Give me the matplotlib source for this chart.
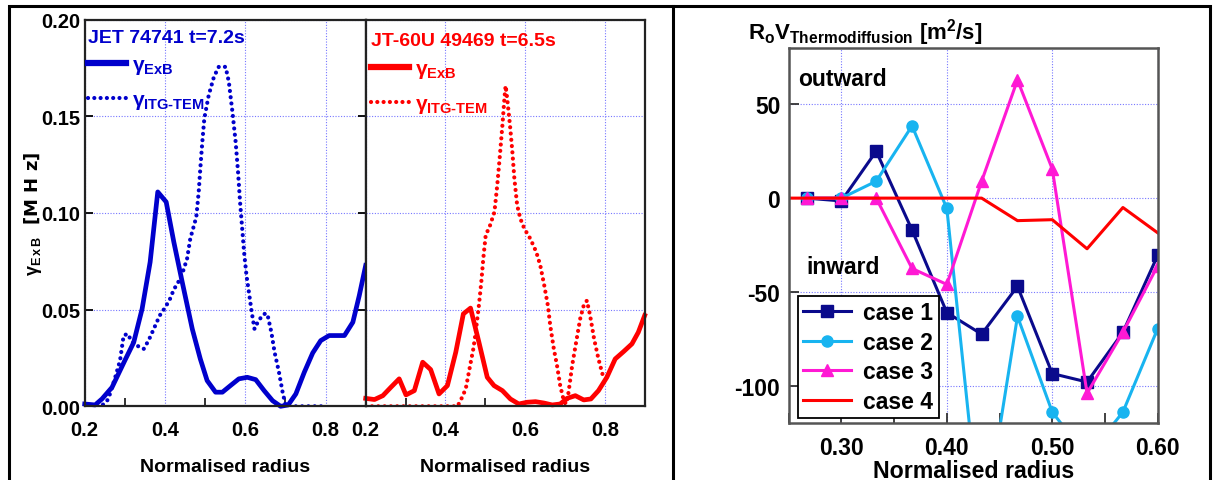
import matplotlib
matplotlib.use("Agg")
import matplotlib.pyplot as plt
from matplotlib.lines import Line2D
from matplotlib.patches import Rectangle
from matplotlib.ticker import MultipleLocator, FormatStrFormatter

# ---------------- data ----------------
# JET 74741, t=7.2s
jet_exb_x = [0.200, 0.226, 0.243, 0.268, 0.300, 0.322, 0.343, 0.363, 0.382, 0.403, 0.422,
             0.443, 0.468, 0.488, 0.505, 0.526, 0.543, 0.563, 0.584, 0.605, 0.626, 0.647,
             0.668, 0.688, 0.707, 0.726, 0.747, 0.768, 0.788, 0.809, 0.847, 0.868, 0.884, 0.900]
jet_exb_y = [0.0012, 0.0007, 0.0038, 0.0098, 0.0237, 0.0330, 0.0504, 0.0746, 0.1109, 0.1057, 0.0850,
             0.0642, 0.0400, 0.0245, 0.0133, 0.0073, 0.0073, 0.0107, 0.0142, 0.0150, 0.0138, 0.0081,
             0.0029, 0.0000, 0.0007, 0.0064, 0.0176, 0.0276, 0.0340, 0.0366, 0.0366, 0.0435, 0.0573, 0.0729]
jet_itg_x = [0.200, 0.240, 0.255, 0.263, 0.276, 0.282, 0.288, 0.297, 0.307, 0.318, 0.330, 0.347,
             0.359, 0.372, 0.387, 0.401, 0.412, 0.422, 0.433, 0.443, 0.455, 0.463, 0.478, 0.484,
             0.488, 0.493, 0.498, 0.509, 0.522, 0.534, 0.551, 0.559, 0.568, 0.576, 0.582, 0.587,
             0.593, 0.597, 0.603, 0.609, 0.616, 0.623, 0.633, 0.647, 0.655, 0.665, 0.673, 0.684,
             0.693, 0.701, 0.800]
jet_itg_y = [0.0, 0.0, 0.0024, 0.0064, 0.0150, 0.0193, 0.0237, 0.0366, 0.0375, 0.0332, 0.0314, 0.0297,
             0.0340, 0.0400, 0.0470, 0.0513, 0.0553, 0.0604, 0.0642, 0.0686, 0.0763, 0.0867, 0.0979, 0.1109,
             0.1230, 0.1368, 0.1489, 0.1610, 0.1705, 0.1756, 0.1756, 0.1679, 0.1523, 0.1368, 0.1212, 0.1057,
             0.0902, 0.0798, 0.0677, 0.0591, 0.0487, 0.0400, 0.0444, 0.0478, 0.0478, 0.0383, 0.0280, 0.0176,
             0.0073, 0.0, 0.0]

# JT-60U 49469, t=6.5s
jt_exb_x = [0.200, 0.222, 0.243, 0.263, 0.284, 0.301, 0.322, 0.343, 0.363, 0.384, 0.405, 0.426,
            0.445, 0.463, 0.484, 0.505, 0.522, 0.543, 0.563, 0.584, 0.605, 0.626, 0.647, 0.668,
            0.688, 0.705, 0.726, 0.747, 0.765, 0.784, 0.805, 0.826, 0.847, 0.868, 0.884, 0.900]
jt_exb_y = [0.0041, 0.0035, 0.0055, 0.0098, 0.0142, 0.0059, 0.0081, 0.0228, 0.0190, 0.0064, 0.0107, 0.0280,
            0.0478, 0.0508, 0.0332, 0.0150, 0.0107, 0.0081, 0.0038, 0.0012, 0.0021, 0.0024, 0.0017, 0.0007,
            0.0012, 0.0041, 0.0055, 0.0033, 0.0038, 0.0081, 0.0150, 0.0245, 0.0283, 0.0323, 0.0383, 0.0470]
jt_itg_x = [0.200, 0.430, 0.438, 0.451, 0.462, 0.470, 0.476, 0.484, 0.490, 0.495, 0.501, 0.512,
            0.523, 0.530, 0.536, 0.543, 0.548, 0.551, 0.555, 0.562, 0.568, 0.573, 0.580, 0.588,
            0.598, 0.613, 0.628, 0.638, 0.648, 0.657, 0.663, 0.672, 0.680, 0.688, 0.697, 0.703,
            0.709, 0.718, 0.728, 0.738, 0.747, 0.755, 0.763, 0.773, 0.784, 0.795]
jt_itg_y = [0.0, 0.0, 0.0029, 0.0090, 0.0211, 0.0297, 0.0383, 0.0522, 0.0642, 0.0763, 0.0884, 0.0936,
            0.1005, 0.1143, 0.1282, 0.1454, 0.1592, 0.1658, 0.1592, 0.1454, 0.1316, 0.1178, 0.1040, 0.0971,
            0.0919, 0.0867, 0.0798, 0.0729, 0.0625, 0.0522, 0.0418, 0.0297, 0.0211, 0.0107, 0.0029, 0.0012,
            0.0073, 0.0211, 0.0332, 0.0452, 0.0522, 0.0547, 0.0470, 0.0349, 0.0245, 0.0159]

# Thermodiffusion velocity
radius = [0.267, 0.300, 0.333, 0.367, 0.400, 0.433, 0.467, 0.500, 0.533, 0.567, 0.600]
case1 = [0, -1.5, 25, -17, -61, -72.5, -47, -93.5, -98, -71.5, -30.5]
case2 = [0, 0, 9, 38.5, -5.5, -183, -63, -114, -138, -114, -69.5]
case3 = [0, 0, 0, -37.5, -46, 9, 63, 15.5, -104, -71.5, -36]
radius4 = [0.250, 0.267, 0.300, 0.333, 0.367, 0.400, 0.433, 0.467, 0.500, 0.533, 0.567, 0.600]
case4 = [0, 0, 0, 0, 0, 0, 0, -12, -11.5, -27, -5, -18.5]

# ---------------- style ----------------
plt.rcParams['mathtext.fontset'] = 'custom'
plt.rcParams['mathtext.rm'] = 'Liberation Sans:bold'
plt.rcParams['mathtext.it'] = 'Liberation Sans:bold'
plt.rcParams['mathtext.bf'] = 'Liberation Sans:bold'
plt.rcParams['mathtext.sf'] = 'Liberation Sans:bold'
plt.rcParams['font.weight'] = 'bold'
plt.rcParams['axes.unicode_minus'] = False

FAM = ['Liberation Sans', 'DejaVu Sans']
BLUE = '#0000cc'
RED = '#ff0000'
GRID = dict(color='#7777ff', linestyle=(0, (1, 1.5)), linewidth=0.8)
DOT = (0, (0.01, 1.5))

W, H = 1220, 481
fig = plt.figure(figsize=(W / 100, H / 100), dpi=100)

def fx(px):
    return px / W

def fy(px):
    return 1 - px / H

axL = fig.add_axes([fx(84.7), fy(407.3), fx(365.7 - 84.7), (407.3 - 20.7) / H])
axM = fig.add_axes([fx(365.7), fy(407.3), fx(644.7 - 365.7), (407.3 - 20.7) / H], sharey=axL)
axR = fig.add_axes([fx(788.7), fy(424.3), fx(1157.7 - 788.7), (424.3 - 49) / H])

LEFT_TICK = 14.5

def style_left(ax):
    ax.set_xlim(0.2, 0.9)
    ax.set_ylim(0, 0.20)
    ax.set_xticks([0.2, 0.4, 0.6, 0.8])
    ax.set_xticklabels(['0.2', '0.4', '0.6', '0.8'], family=FAM, fontweight='bold',
                       fontsize=LEFT_TICK)
    ax.xaxis.set_minor_locator(MultipleLocator(0.1))
    ax.yaxis.set_major_locator(MultipleLocator(0.05))
    ax.grid(True, which='major', **GRID)
    ax.set_axisbelow(True)
    for s in ax.spines.values():
        s.set_color('#222222')
        s.set_linewidth(1.6)
    ax.tick_params(axis='x', which='major', direction='in', length=0, pad=10)
    ax.tick_params(axis='x', which='minor', direction='in', length=6, width=1.3, color='#222222')
    ax.set_xlabel('Normalised radius', fontsize=14, family=FAM, fontweight='bold', va='center')
    ax.xaxis.set_label_coords(0.5, -(468 - 407.3) / 386.6)

style_left(axL)
style_left(axM)
axL.yaxis.set_major_formatter(FormatStrFormatter('%.2f'))
axL.tick_params(axis='y', direction='in', length=6, width=1.3, left=True, right=True,
                pad=3, labelsize=LEFT_TICK)
for lab in axL.get_yticklabels():
    lab.set_family(FAM)
    lab.set_fontweight('bold')
axM.tick_params(axis='y', left=False, right=False, labelleft=False)

axL.set_ylabel(r'$\gamma_{E\,x\,B}$  [M H z]', fontsize=13, fontweight='bold', va='center')
axL.yaxis.set_label_coords(-(84.7 - 33) / 281, 0.5)

# JET panel
axL.plot(jet_exb_x, jet_exb_y, color=BLUE, lw=3.4, solid_joinstyle='round', clip_on=False)
axL.plot(jet_itg_x, jet_itg_y, color=BLUE, lw=3.0, linestyle=DOT, dash_capstyle='round')
axL.text(0.012, 0.955, 'JET 74741 t=7.2s', transform=axL.transAxes, color=BLUE,
         fontsize=14, family=FAM, fontweight='bold', va='center', ha='left')
hL = [Line2D([], [], color=BLUE, lw=4.5), Line2D([], [], color=BLUE, lw=3.0, linestyle=DOT,
                                                  dash_capstyle='round')]
axL.legend(hL, [r'$\gamma_{ExB}$', r'$\gamma_{ITG\text{-}TEM}$'], loc='upper left',
           bbox_to_anchor=(0.012, 0.91), frameon=False, fontsize=15, labelcolor=BLUE,
           handlelength=1.8, handletextpad=0.3, borderaxespad=0, borderpad=0,
           labelspacing=0.6)

# JT-60U panel
axM.plot(jt_exb_x, jt_exb_y, color=RED, lw=3.4, solid_joinstyle='round', clip_on=False)
axM.plot(jt_itg_x, jt_itg_y, color=RED, lw=3.0, linestyle=DOT, dash_capstyle='round')
axM.text(0.02, 0.945, 'JT-60U 49469 t=6.5s', transform=axM.transAxes, color=RED,
         fontsize=14, family=FAM, fontweight='bold', va='center', ha='left')
hM = [Line2D([], [], color=RED, lw=4.5), Line2D([], [], color=RED, lw=3.0, linestyle=DOT,
                                                 dash_capstyle='round')]
axM.legend(hM, [r'$\gamma_{ExB}$', r'$\gamma_{ITG\text{-}TEM}$'], loc='upper left',
           bbox_to_anchor=(0.02, 0.90), frameon=False, fontsize=15, labelcolor=RED,
           handlelength=1.8, handletextpad=0.3, borderaxespad=0, borderpad=0,
           labelspacing=0.6)

# Right panel
axR.set_xlim(0.25, 0.60)
axR.set_ylim(-120, 80)
axR.xaxis.set_major_locator(MultipleLocator(0.1))
axR.xaxis.set_minor_locator(MultipleLocator(0.05))
axR.yaxis.set_major_locator(MultipleLocator(50))
axR.xaxis.set_major_formatter(FormatStrFormatter('%.2f'))
axR.grid(True, which='major', **GRID)
axR.set_axisbelow(True)
for s in axR.spines.values():
    s.set_color('#555555')
    s.set_linewidth(1.8)
axR.tick_params(axis='both', which='major', direction='in', length=7, width=1.3,
                color='#333333', labelsize=16.5)
axR.tick_params(axis='x', which='major', pad=9)
axR.tick_params(axis='y', which='major', pad=6)
axR.tick_params(axis='x', which='minor', direction='in', length=7, width=1.3, color='#333333')
for lab in axR.get_xticklabels() + axR.get_yticklabels():
    lab.set_family(FAM)
    lab.set_fontweight('bold')

axR.plot(radius, case1, color='#0a0a8c', lw=2.2, marker='s', markersize=8, label='case 1')
axR.plot(radius, case2, color='#18b4f0', lw=2.2, marker='o', markersize=8, label='case 2')
axR.plot(radius, case3, color='#ff19d4', lw=2.2, marker='^', markersize=9, label='case 3')
axR.plot(radius4, case4, color=RED, lw=2.2, label='case 4')

legR = axR.legend(loc='lower left', bbox_to_anchor=(0.024, 0.013), borderaxespad=0,
                  handlelength=2.1, handletextpad=0.5, labelspacing=0.28,
                  borderpad=0.25, fancybox=False, framealpha=1, edgecolor='black',
                  prop={'family': FAM, 'weight': 'bold', 'size': 16.5})
legR.get_frame().set_linewidth(1.3)

axR.text(0.025, 0.92, 'outward', transform=axR.transAxes, fontsize=16.5, family=FAM,
         fontweight='bold', va='center', ha='left')
axR.text(0.047, 0.4165, 'inward', transform=axR.transAxes, fontsize=16.5, family=FAM,
         fontweight='bold', va='center', ha='left')
axR.text(-0.111, 1.026, r'R$_{\mathrm{o}}$V$_{\mathrm{Thermodiffusion}}$ [m$^{2}$/s]',
         transform=axR.transAxes, fontsize=16, family=FAM, fontweight='bold',
         va='baseline', ha='left')
axR.set_xlabel('Normalised radius', fontsize=16.7, family=FAM, fontweight='bold', va='center')
axR.xaxis.set_label_coords(0.5, -(471.7 - 424.3) / 375.3)

# Outer frame and divider
fig.add_artist(Rectangle((fx(9.3), -0.1), fx(1210 - 9.3), fy(7.3) + 0.1, transform=fig.transFigure,
                         fill=False, edgecolor='black', linewidth=2.2))
fig.add_artist(Line2D([fx(672.7), fx(672.7)], [-0.1, fy(7.3)], transform=fig.transFigure,
                      color='black', linewidth=2.2))

fig.savefig('out.png', dpi=100)
